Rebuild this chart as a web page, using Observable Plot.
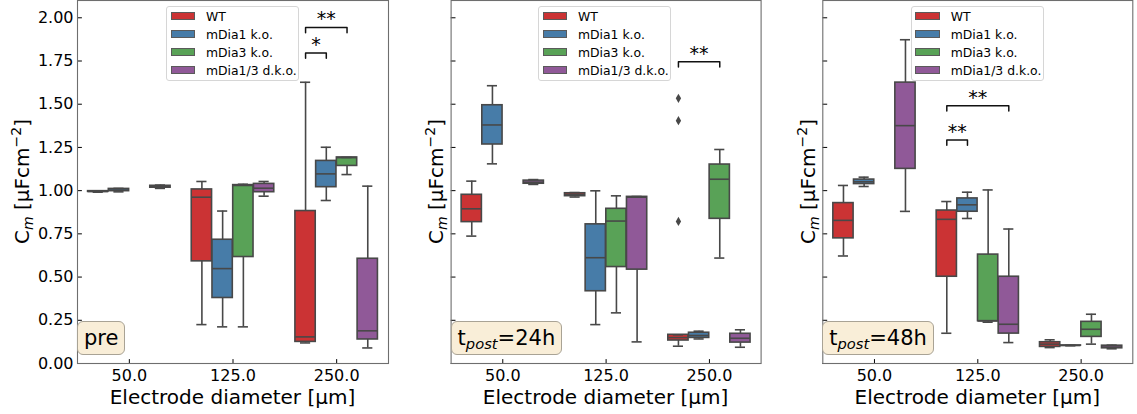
<!DOCTYPE html>
<html>
<head>
<meta charset="utf-8">
<script src="https://cdn.jsdelivr.net/npm/d3@7"></script>
<script src="https://cdn.jsdelivr.net/npm/@observablehq/plot@0.6"></script>
<style>
  body { margin: 0; background: #fff; font-family: "DejaVu Sans", sans-serif; }
  #chart { position: relative; width: 1137px; height: 414px; overflow: hidden; }
  .panel { position: absolute; top: 0; height: 414px; }
  .panel svg { display: block; }
  .legend { position: absolute; top: 6px; width: 131px; height: 73px; border: 1px solid #d6d6d6; border-radius: 3px;
            background: rgba(255,255,255,0.8); font-size: 12.4px; color: #000; }
  .legend .row { position: absolute; left: 0; height: 18px; display: flex; align-items: center; white-space: nowrap; }
  .legend .sw { display: inline-block; box-sizing: border-box; width: 24.6px; height: 8.4px; margin-left: 3.7px; margin-right: 10.7px; border: 1.2px solid #5a5a5a; }
  .tag { position: absolute; top: 320.7px; border: 1px solid #a9a395; border-radius: 6px; background: #f9eed8;
         font-size: 21px; line-height: 24px; padding: 4px 6px; color: #000; white-space: nowrap; }
  .tag sub { font-style: italic; font-size: 70%; vertical-align: -0.3em; line-height: 0; }
</style>
</head>
<body>
<div id="chart"></div>
<script>
// Categories
const diameters = ["50.0", "125.0", "250.0"];
const genotypes = ["WT", "mDia1 k.o.", "mDia3 k.o.", "mDia1/3 d.k.o."];
const genotypeColors = ["#cb3334", "#477ca8", "#59a257", "#905998"];
const yTicks = [0, 0.25, 0.5, 0.75, 1.0, 1.25, 1.5, 1.75, 2.0];

// Box statistics: [diameter, genotype, lower whisker, Q1, median, Q3, upper whisker]
const statsPre = [
  ["50.0", "WT", 0.991, 0.993, 0.995, 0.997, 0.999],
  ["50.0", "mDia1 k.o.", 0.993, 0.997, 1.003, 1.010, 1.013],
  ["50.0", "mDia1/3 d.k.o.", 1.013, 1.017, 1.022, 1.028, 1.032],
  ["125.0", "WT", 0.225, 0.591, 0.962, 1.007, 1.053],
  ["125.0", "mDia1 k.o.", 0.212, 0.379, 0.549, 0.716, 0.882],
  ["125.0", "mDia3 k.o.", 0.212, 0.616, 1.030, 1.032, 1.037],
  ["125.0", "mDia1/3 d.k.o.", 0.968, 0.991, 1.014, 1.039, 1.053],
  ["250.0", "WT", 0.119, 0.125, 0.154, 0.882, 1.627],
  ["250.0", "mDia1 k.o.", 0.943, 1.020, 1.097, 1.172, 1.251],
  ["250.0", "mDia3 k.o.", 1.093, 1.143, 1.191, 1.192, 1.192],
  ["250.0", "mDia1/3 d.k.o.", 0.090, 0.139, 0.189, 0.606, 1.026]
];
const statsPost24 = [
  ["50.0", "WT", 0.737, 0.818, 0.895, 0.976, 1.055],
  ["50.0", "mDia1 k.o.", 1.155, 1.267, 1.380, 1.494, 1.607],
  ["50.0", "mDia1/3 d.k.o.", 1.036, 1.040, 1.049, 1.058, 1.064],
  ["125.0", "WT", 0.963, 0.968, 0.978, 0.985, 0.989],
  ["125.0", "mDia1 k.o.", 0.225, 0.418, 0.612, 0.805, 0.999],
  ["125.0", "mDia3 k.o.", 0.293, 0.558, 0.824, 0.895, 0.970],
  ["125.0", "mDia1/3 d.k.o.", 0.125, 0.543, 0.962, 0.964, 0.966],
  ["250.0", "WT", 0.100, 0.133, 0.150, 0.166, 0.166],
  ["250.0", "mDia1 k.o.", 0.142, 0.148, 0.162, 0.178, 0.187],
  ["250.0", "mDia3 k.o.", 0.610, 0.837, 1.066, 1.151, 1.238],
  ["250.0", "mDia1/3 d.k.o.", 0.094, 0.121, 0.146, 0.172, 0.195]
];
const statsPost48 = [
  ["50.0", "WT", 0.622, 0.724, 0.828, 0.928, 1.030],
  ["50.0", "mDia1 k.o.", 1.024, 1.038, 1.051, 1.064, 1.078],
  ["50.0", "mDia1/3 d.k.o.", 0.880, 1.126, 1.376, 1.625, 1.873],
  ["125.0", "WT", 0.175, 0.502, 0.834, 0.885, 0.937],
  ["125.0", "mDia1 k.o.", 0.839, 0.878, 0.918, 0.955, 0.991],
  ["125.0", "mDia3 k.o.", 0.239, 0.245, 0.246, 0.630, 1.004],
  ["125.0", "mDia1/3 d.k.o.", 0.121, 0.173, 0.227, 0.502, 0.778],
  ["250.0", "WT", 0.092, 0.096, 0.112, 0.123, 0.137],
  ["250.0", "mDia1 k.o.", 0.103, 0.1035, 0.104, 0.1045, 0.105],
  ["250.0", "mDia3 k.o.", 0.112, 0.154, 0.198, 0.241, 0.285],
  ["250.0", "mDia1/3 d.k.o.", 0.085, 0.088, 0.095, 0.103, 0.106]
];

// Outliers: [diameter, genotype, value]
const outliersPre = [];
const outliersPost24 = [
  ["250.0", "WT", 1.534],
  ["250.0", "WT", 1.405],
  ["250.0", "WT", 0.822]
];
const outliersPost48 = [];

// Significance brackets: [diameter, from genotype, to genotype, bracket height, label]
const bracketsPre = [
  ["250.0", "WT", "mDia1 k.o.", 1.796, "*"],
  ["250.0", "WT", "mDia3 k.o.", 1.944, "**"]
];
const bracketsPost24 = [
  ["250.0", "WT", "mDia3 k.o.", 1.746, "**"]
];
const bracketsPost48 = [
  ["125.0", "WT", "mDia1 k.o.", 1.293, "**"],
  ["125.0", "WT", "mDia1/3 d.k.o.", 1.491, "**"]
];

// Grouped-box geometry (category step 1, group width 0.8, box width 98% of slot)
const groupWidth = 0.8;
const hueStep = groupWidth / genotypes.length;
const boxWidth = hueStep * 0.98;
const capWidth = boxWidth / 2;
const legDrop = 0.03;
const edge = "#484848";
const lw = 1.6;

const xPos = (d, g) => diameters.indexOf(d) + (genotypes.indexOf(g) - (genotypes.length - 1) / 2) * hueStep;

const inwardTick = {draw(context, length) { context.moveTo(0, 0); context.lineTo(0, -length); }};

function panel({stats, outliers, brackets, tagHTML, left, width, marginLeft, marginRight, yLabelX, legendLeft, tickLabels}) {
  const boxes = stats.map(([d, g, low, q1, med, q3, high]) => ({d, g, low, q1, med, q3, high, x: xPos(d, g)}));
  const outs = outliers.map(([d, g, v]) => ({x: xPos(d, g), v}));
  const brs = brackets.map(([d, a, b, y, label], id) => ({id, xa: xPos(d, a), xb: xPos(d, b), y, label}));
  const bracketPath = brs.flatMap(({id, xa, xb, y}) => [
    {id, x: xa, y: y - legDrop}, {id, x: xa, y}, {id, x: xb, y}, {id, x: xb, y: y - legDrop}
  ]);

  const marks = [
    Plot.ruleX(boxes, {x: "x", y1: "low", y2: "q1", stroke: edge, strokeWidth: lw}),
    Plot.ruleX(boxes, {x: "x", y1: "q3", y2: "high", stroke: edge, strokeWidth: lw}),
    Plot.rect(boxes, {x1: d => d.x - boxWidth / 2, x2: d => d.x + boxWidth / 2, y1: "q1", y2: "q3", fill: "g", stroke: edge, strokeWidth: lw}),
    Plot.ruleY(boxes, {y: "med", x1: d => d.x - boxWidth / 2, x2: d => d.x + boxWidth / 2, stroke: edge, strokeWidth: lw}),
    Plot.ruleY(boxes, {y: "low", x1: d => d.x - capWidth / 2, x2: d => d.x + capWidth / 2, stroke: edge, strokeWidth: lw}),
    Plot.ruleY(boxes, {y: "high", x1: d => d.x - capWidth / 2, x2: d => d.x + capWidth / 2, stroke: edge, strokeWidth: lw}),
    Plot.dot(outs, {x: "x", y: "v", symbol: "diamond", r: 2.8, fill: edge, stroke: "none"}),
    Plot.line(bracketPath, {x: "x", y: "y", z: "id", stroke: "#111", strokeWidth: 1.5}),
    Plot.text(brs, {x: d => (d.xa + d.xb) / 2, y: "y", text: "label", lineAnchor: "bottom", dy: -2, fontSize: 19, fill: "#000"}),
    Plot.axisX(diameters.map((d, i) => i), {tickFormat: i => diameters[i], tickSize: 0, tickPadding: 6, fontSize: 16, label: null}),
    Plot.vectorX(diameters.map((d, i) => i), {frameAnchor: "bottom", length: 4, anchor: "start", shape: inwardTick, stroke: "#000", strokeWidth: 1}),
    Plot.vectorY(yTicks, {frameAnchor: "left", rotate: 90, length: 4, anchor: "start", shape: inwardTick, stroke: "#000", strokeWidth: 1}),
    Plot.frame({stroke: "#6e6e6e", strokeWidth: 1.1})
  ];
  if (tickLabels) {
    marks.push(Plot.axisY(yTicks, {tickFormat: d3.format(".2f"), tickSize: 0, tickPadding: 4, fontSize: 16, label: null}));
  }

  const chart = Plot.plot({
    width, height: 414,
    marginLeft, marginRight, marginTop: 0, marginBottom: 51,
    style: {fontFamily: "DejaVu Sans", fontSize: "16px", color: "#000", background: "transparent", overflow: "visible"},
    x: {domain: [-0.5, diameters.length - 0.5], axis: null},
    y: {domain: [0, 2.1], axis: tickLabels ? undefined : null},
    color: {domain: genotypes, range: genotypeColors},
    marks
  });

  const svg = d3.select(chart);
  const [yBottom, yTop] = chart.scale("y").range;
  const [xL, xR] = chart.scale("x").range;

  // y-axis title with subscript and superscript
  const ylab = svg.append("text")
    .attr("transform", `translate(${yLabelX},${(yBottom + yTop) / 2}) rotate(-90)`)
    .attr("text-anchor", "middle").attr("font-size", 20).attr("fill", "#000");
  ylab.append("tspan").text("C");
  ylab.append("tspan").attr("font-size", 14).attr("font-style", "italic").attr("dy", 4).text("m");
  ylab.append("tspan").attr("dy", -4).text(" [μFcm");
  ylab.append("tspan").attr("font-size", 14).attr("dy", -8).text("−2");
  ylab.append("tspan").attr("dy", 8).text("]");

  // x-axis title
  svg.append("text")
    .attr("x", (xL + xR) / 2).attr("y", 404)
    .attr("text-anchor", "middle").attr("font-size", 20).attr("fill", "#000")
    .text("Electrode diameter [μm]");

  const holder = document.createElement("div");
  holder.className = "panel";
  holder.style.left = left + "px";
  holder.style.width = width + "px";
  holder.appendChild(chart);

  // legend
  const legend = document.createElement("div");
  legend.className = "legend";
  legend.style.left = legendLeft + "px";
  genotypes.forEach((g, i) => {
    const row = document.createElement("div");
    row.className = "row";
    row.style.top = (18 * i) + "px";
    const sw = document.createElement("span");
    sw.className = "sw";
    sw.style.background = genotypeColors[i];
    row.appendChild(sw);
    row.appendChild(document.createTextNode(g));
    legend.appendChild(row);
  });
  holder.appendChild(legend);

  // condition tag
  const tag = document.createElement("div");
  tag.className = "tag";
  tag.style.left = marginLeft + "px";
  tag.innerHTML = tagHTML;
  holder.appendChild(tag);

  return holder;
}

const root = document.getElementById("chart");
root.appendChild(panel({stats: statsPre, outliers: outliersPre, brackets: bracketsPre, tagHTML: "pre",
  left: 0, width: 400, marginLeft: 77, marginRight: 12, yLabelX: 28.5, legendLeft: 166, tickLabels: true}));
root.appendChild(panel({stats: statsPost24, outliers: outliersPost24, brackets: bracketsPost24, tagHTML: "t<sub>post</sub>=24h",
  left: 400, width: 372, marginLeft: 50.6, marginRight: 11.4, yLabelX: 43, legendLeft: 138, tickLabels: false}));
root.appendChild(panel({stats: statsPost48, outliers: outliersPost48, brackets: bracketsPost48, tagHTML: "t<sub>post</sub>=48h",
  left: 772, width: 365, marginLeft: 50.3, marginRight: 4.7, yLabelX: 43, legendLeft: 138.7, tickLabels: false}));
</script>
</body>
</html>
